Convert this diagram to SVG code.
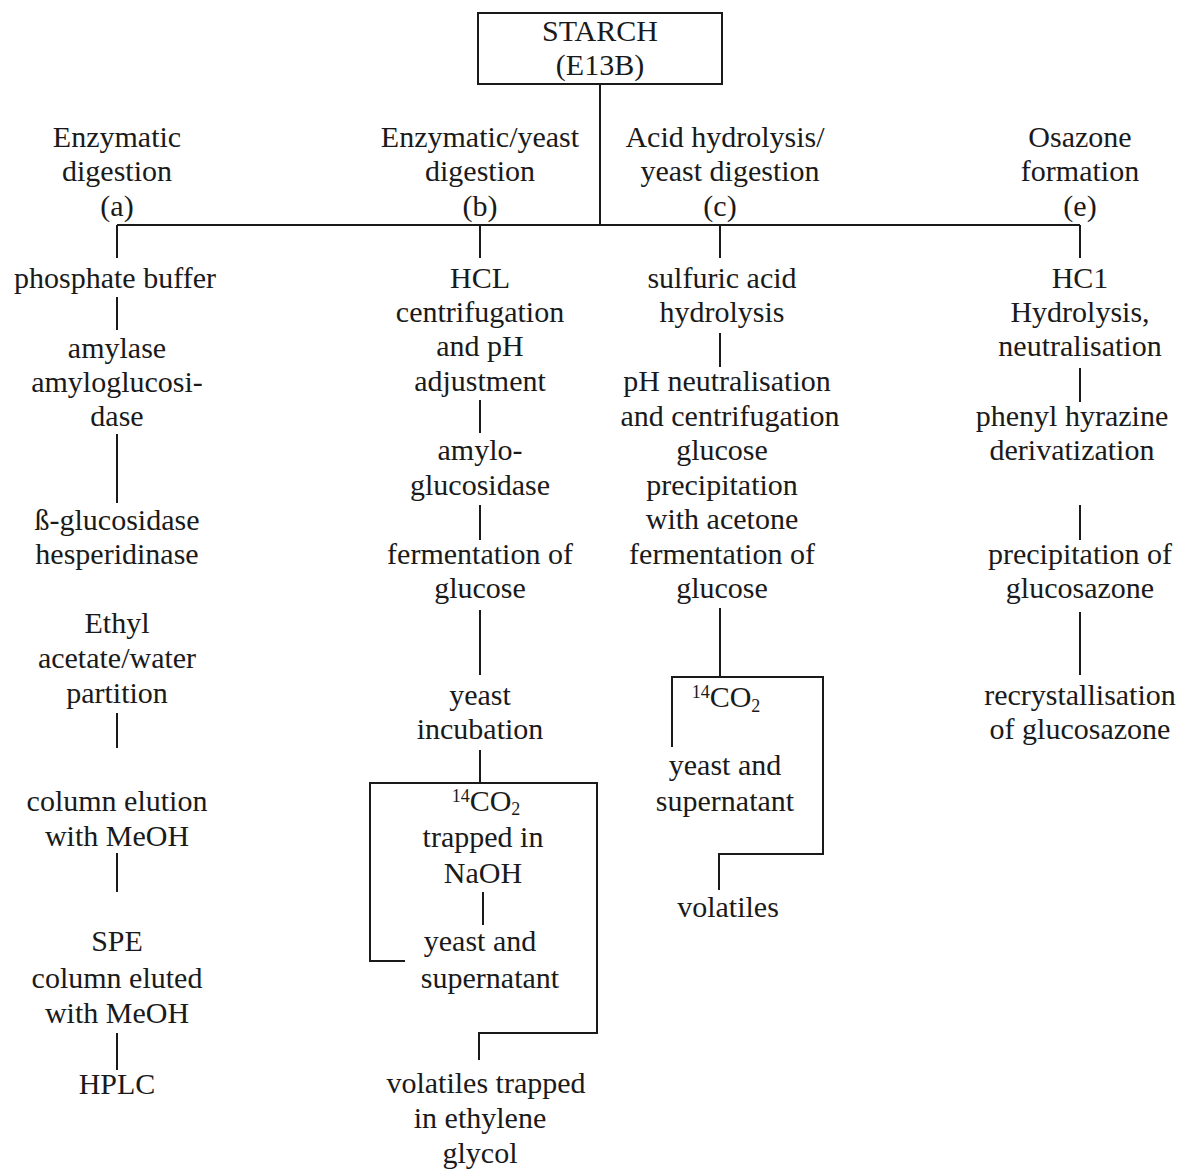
<svg xmlns="http://www.w3.org/2000/svg" width="1179" height="1171" viewBox="0 0 1179 1171">
  <style>
    text { font-family: "Liberation Serif", "Times New Roman", serif; font-size: 30px; fill: #1a1a1a; text-anchor: middle; }
    .ln { fill: none; stroke: #1a1a1a; stroke-width: 2; }
    .sm { font-size: 18px; }
  </style>
  <rect width="1179" height="1171" fill="#ffffff"/>

  <!-- connectors -->
  <g id="connectors" class="ln">
    <path d="M600 84 V225 M117 225 H1080"/>
    <!-- branch (a) -->
    <path d="M117 225 V258 M117 297 V330 M117 434 V503 M117 713 V748 M117 853 V892 M117 1033 V1070"/>
    <!-- branch (b) -->
    <path d="M480 225 V258 M480 400 V433 M480 505 V540 M480 610 V675 M480 750 V783"/>
    <path d="M405 961 H370 V783 H597 V1033 H479 V1060"/>
    <path d="M483 892 V925"/>
    <!-- branch (c) -->
    <path d="M720 225 V258 M720 333 V367 M720 608 V677"/>
    <path d="M672 747 V677 H823 V854 H719 V890"/>
    <!-- branch (e) -->
    <path d="M1080 225 V258 M1080 368 V402 M1080 505 V540 M1080 612 V675"/>
  </g>

  <g id="starch">
    <rect x="478" y="13" width="244" height="71" class="ln"/>
    <text x="600" y="41">STARCH</text>
    <text x="600" y="75">(E13B)</text>
  </g>

  <g id="branch-a">
    <text x="117" y="147">Enzymatic</text>
    <text x="117" y="181">digestion</text>
    <text x="117" y="216">(a)</text>
    <text x="115" y="288">phosphate buffer</text>
    <text x="117" y="358">amylase</text>
    <text x="117" y="392">amyloglucosi-</text>
    <text x="117" y="426">dase</text>
    <text x="117" y="530">ß-glucosidase</text>
    <text x="117" y="564">hesperidinase</text>
    <text x="117" y="633">Ethyl</text>
    <text x="117" y="668">acetate/water</text>
    <text x="117" y="703">partition</text>
    <text x="117" y="811">column elution</text>
    <text x="117" y="846">with MeOH</text>
    <text x="117" y="951">SPE</text>
    <text x="117" y="988">column eluted</text>
    <text x="117" y="1023">with MeOH</text>
    <text x="117" y="1094">HPLC</text>
  </g>

  <g id="branch-b">
    <text x="480" y="147">Enzymatic/yeast</text>
    <text x="480" y="181">digestion</text>
    <text x="480" y="216">(b)</text>
    <text x="480" y="288">HCL</text>
    <text x="480" y="322">centrifugation</text>
    <text x="480" y="356">and pH</text>
    <text x="480" y="391">adjustment</text>
    <text x="480" y="460">amylo-</text>
    <text x="480" y="495">glucosidase</text>
    <text x="480" y="564">fermentation of</text>
    <text x="480" y="598">glucose</text>
    <text x="480" y="705">yeast</text>
    <text x="480" y="739">incubation</text>
    <text x="486" y="811"><tspan class="sm" dy="-9">14</tspan><tspan dy="9">CO</tspan><tspan class="sm" dy="4">2</tspan></text>
    <text x="483" y="847">trapped in</text>
    <text x="483" y="883">NaOH</text>
    <text x="480" y="951">yeast and</text>
    <text x="490" y="988">supernatant</text>
    <text x="486" y="1093">volatiles trapped</text>
    <text x="480" y="1128">in ethylene</text>
    <text x="480" y="1163">glycol</text>
  </g>

  <g id="branch-c">
    <text x="725" y="147">Acid hydrolysis/</text>
    <text x="730" y="181">yeast digestion</text>
    <text x="720" y="216">(c)</text>
    <text x="722" y="288">sulfuric acid</text>
    <text x="722" y="322">hydrolysis</text>
    <text x="727" y="391">pH neutralisation</text>
    <text x="730" y="426">and centrifugation</text>
    <text x="722" y="460">glucose</text>
    <text x="722" y="495">precipitation</text>
    <text x="722" y="529">with acetone</text>
    <text x="722" y="564">fermentation of</text>
    <text x="722" y="598">glucose</text>
    <text x="726" y="707"><tspan class="sm" dy="-9">14</tspan><tspan dy="9">CO</tspan><tspan class="sm" dy="5">2</tspan></text>
    <text x="725" y="775">yeast and</text>
    <text x="725" y="811">supernatant</text>
    <text x="728" y="917">volatiles</text>
  </g>

  <g id="branch-e">
    <text x="1080" y="147">Osazone</text>
    <text x="1080" y="181">formation</text>
    <text x="1080" y="216">(e)</text>
    <text x="1080" y="288">HC1</text>
    <text x="1080" y="322">Hydrolysis,</text>
    <text x="1080" y="356">neutralisation</text>
    <text x="1072" y="426">phenyl hyrazine</text>
    <text x="1072" y="460">derivatization</text>
    <text x="1080" y="564">precipitation of</text>
    <text x="1080" y="598">glucosazone</text>
    <text x="1080" y="705">recrystallisation</text>
    <text x="1080" y="739">of glucosazone</text>
  </g>
</svg>
